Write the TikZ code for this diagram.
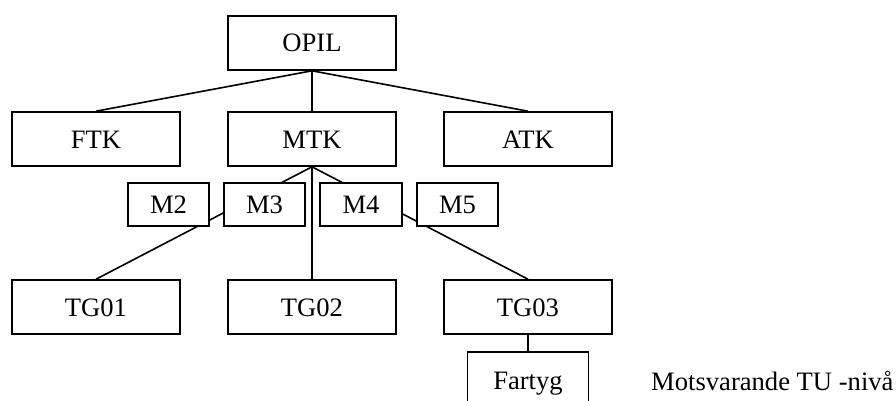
\documentclass[tikz,border=0pt]{standalone}
\usepackage{fontspec}
\setmainfont{Liberation Serif}
\usetikzlibrary{backgrounds}
\begin{document}
\begin{tikzpicture}[x=1pt,y=-1pt,
  lbl/.style={font=\fontsize{26.6}{30}\selectfont},
  box/.style={lbl,draw=black,line width=1.6pt,fill=white,inner sep=0pt,
    minimum width=168pt,minimum height=54pt,
    text height=18pt,text depth=0pt},
  mbox/.style={box,minimum width=81pt,minimum height=43pt},
  link/.style={draw=black,line width=1.6pt}]
\useasboundingbox (0,0) rectangle (896,401);
\clip (0,0) rectangle (896,401);
% top level
\node[box] (opil) at (312,43) {OPIL};
% second level
\node[box] (ftk) at (96,139) {FTK};
\node[box] (mtk) at (312,139) {MTK};
\node[box] (atk) at (528,139) {ATK};
% intermediate boxes, drawn over the connectors
\node[mbox] (m2) at (168.5,204.5) {M2};
\node[mbox] (m3) at (264.5,204.5) {M3};
\node[mbox,minimum width=82pt] (m4) at (361,204.5) {M4};
\node[mbox] (m5) at (457.5,204.5) {M5};
% third level
\node[box] (tg01) at (96,307) {TG01};
\node[box] (tg02) at (312,307) {TG02};
\node[box] (tg03) at (528,307) {TG03};
% unit box, running past the lower edge
\node[box,minimum width=121pt,minimum height=56pt] (fartyg) at (528,380) {Fartyg};
\node[lbl,anchor=base west,inner sep=0pt] (tu) at (651,390) {Motsvarande TU -nivå};
\begin{scope}[on background layer]
  \draw[link] (opil.south) -- (ftk.north);
  \draw[link] (opil.south) -- (mtk.north);
  \draw[link] (opil.south) -- (atk.north);
  \draw[link] (mtk.south) -- (tg01.north);
  \draw[link] (mtk.south) -- (tg02.north);
  \draw[link] (mtk.south) -- (tg03.north);
  \draw[link] (tg03.south) -- (fartyg.north);
\end{scope}
\end{tikzpicture}
\end{document}
